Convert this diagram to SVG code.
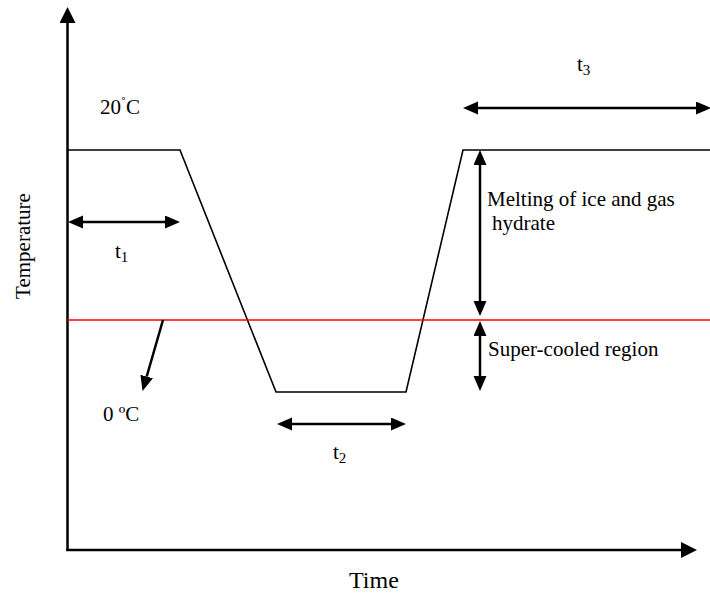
<svg xmlns="http://www.w3.org/2000/svg" width="710" height="594" viewBox="0 0 710 594">
<defs>
<marker id="ah" markerUnits="userSpaceOnUse" markerWidth="16" markerHeight="14" refX="0" refY="6.5" orient="auto-start-reverse" viewBox="0 0 16 14">
<path d="M0,0 L15,6.5 L0,13 z" fill="#000"/>
</marker>
<marker id="axh" markerUnits="userSpaceOnUse" markerWidth="17" markerHeight="17" refX="0" refY="8" orient="auto" viewBox="0 0 17 17">
<path d="M0,0 L16,8 L0,16 z" fill="#000"/>
</marker>
</defs>
<style>
text{font-family:"Liberation Serif","Times New Roman",serif;fill:#000}
.lbl{font-size:21px}
.ax{stroke:#000;stroke-width:2.5;fill:none}
.prof{stroke:#000;stroke-width:1.6;fill:none}
.arr{stroke:#000;stroke-width:2.5;fill:none}
</style>
<rect width="710" height="594" fill="#fff"/>
<g id="axes">
<line class="ax" x1="67.5" y1="551" x2="67.5" y2="23" marker-end="url(#axh)"/>
<line class="ax" x1="66.3" y1="550" x2="681" y2="550" marker-end="url(#axh)"/>
<text id="ylabel" class="lbl" transform="translate(30,246) rotate(-90)" text-anchor="middle" font-size="21">Temperature</text>
<text id="xlabel" x="349" y="588" font-size="24">Time</text>
</g>
<g id="profile">
<polyline class="prof" points="67.5,150 180,150 276,392 406,392 463,150 710,150"/>
</g>
<g id="zero-line">
<line x1="67.5" y1="320" x2="710" y2="320" stroke="#ff0000" stroke-width="1.6"/>
</g>
<g id="connectors">
<line class="arr" x1="83" y1="222" x2="165" y2="222" marker-start="url(#ah)" marker-end="url(#ah)"/>
<line class="arr" x1="292" y1="424" x2="391" y2="424" marker-start="url(#ah)" marker-end="url(#ah)"/>
<line class="arr" x1="478" y1="108" x2="696" y2="108" marker-start="url(#ah)" marker-end="url(#ah)"/>
<line class="arr" x1="480" y1="165" x2="480" y2="301" marker-start="url(#ah)" marker-end="url(#ah)"/>
<line class="arr" x1="480" y1="336" x2="480" y2="376" marker-start="url(#ah)" marker-end="url(#ah)"/>
<line class="arr" x1="163" y1="320" x2="146.7" y2="376.5" marker-end="url(#ah)"/>
</g>
<g id="label-20C"><text class="lbl" x="100" y="114" font-size="23">20<tspan dy="-6" font-size="15">˚</tspan><tspan dy="6">C</tspan></text></g>
<g id="label-0C"><text class="lbl" x="103" y="421" font-size="23">0 ºC</text></g>
<g id="label-t1"><text class="lbl" x="115" y="258" font-size="23">t<tspan font-size="15" dy="4">1</tspan></text></g>
<g id="label-t2"><text class="lbl" x="333" y="459" font-size="23">t<tspan font-size="15" dy="4">2</tspan></text></g>
<g id="label-t3"><text class="lbl" x="577" y="71" font-size="23">t<tspan font-size="15" dy="4">3</tspan></text></g>
<g id="label-melting"><text class="lbl" x="487" y="206">Melting of ice and gas</text><text class="lbl" x="492" y="230">hydrate</text></g>
<g id="label-supercooled"><text class="lbl" x="488" y="356">Super-cooled region</text></g>
</svg>
